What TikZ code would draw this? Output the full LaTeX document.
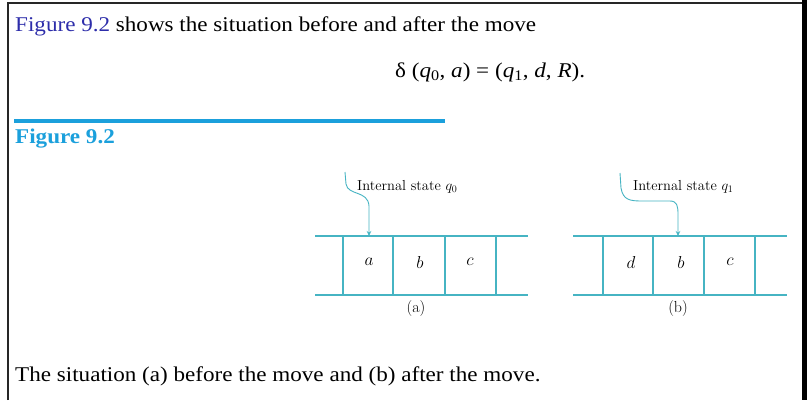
\documentclass[tikz,border=0pt]{standalone}
\usepackage{fontspec}
\newfontfamily\tnr[FakeStretch=1.1]{Liberation Serif}
\usetikzlibrary{arrows.meta}
\definecolor{linkblue}{RGB}{45,45,170}
\definecolor{rulecyan}{RGB}{27,160,220}
\definecolor{tapecol}{RGB}{70,180,195}
\tikzset{
  bodytext/.style={anchor=base west,inner sep=0pt,font=\tnr\fontsize{21}{24}\selectfont},
  tapeline/.style={draw=tapecol,line width=1.3pt},
  cellsym/.style={inner sep=0pt,font=\fontsize{16}{18}\selectfont},
  statelabel/.style={anchor=base west,inner sep=0pt,font=\fontsize{14.5}{16}\selectfont},
  sublabel/.style={inner sep=0pt,font=\fontsize{16}{18}\selectfont},
  pointer/.style={draw=tapecol,line width=0.9pt,-{Stealth[length=5pt,width=4.5pt]}},
}
\begin{document}
\begin{tikzpicture}[x=1pt,y=-1pt]
\useasboundingbox (0,0) rectangle (807,400);
\fill[white] (0,0) rectangle (807,400);
% frame
\draw[line width=1.6pt,black!85] (8,400) -- (8,3) -- (803,3);
\fill[black] (802,0) rectangle (807,400);
% first line
\node[bodytext] (intro) at (15,31) {\textcolor{linkblue}{Figure 9.2} shows the situation before and after the move};
% formula
\node[bodytext] (formula) at (395,77) {δ (\textit{q}\textsubscript{0}, \textit{a}) = (\textit{q}\textsubscript{1}, \textit{d}, \textit{R}).};
% rule and title
\draw[rulecyan,line width=3.5pt] (14,121) -- (445,121);
\node[bodytext,text=rulecyan,font=\tnr\bfseries\fontsize{21}{24}\selectfont] (figtitle) at (15,143) {Figure 9.2};
% tape (a)
\draw[tapeline] (315,236) -- (528,236);
\draw[tapeline] (315,295) -- (528,295);
\foreach \x in {343,393,445,496} \draw[tapeline] (\x,236) -- (\x,295);
\node[cellsym] (ca1) at (369,262) {$a$};
\node[cellsym] (ca2) at (420,262) {$b$};
\node[cellsym] (ca3) at (470,262) {$c$};
\node[sublabel] (suba) at (416,309) {(a)};
\node[statelabel] (labela) at (357,190) {Internal state $q_0$};
\coordinate (sa) at (345,172);
\coordinate (ta) at (369,236);
\draw[pointer] (sa) -- (346,184) .. controls (348,196) and (368,190) .. (369,206) -- (ta);
% tape (b)
\draw[tapeline] (573,236) -- (787,236);
\draw[tapeline] (573,295) -- (787,295);
\foreach \x in {603,653,704,755} \draw[tapeline] (\x,236) -- (\x,295);
\node[cellsym] (cb1) at (631,262) {$d$};
\node[cellsym] (cb2) at (681,262) {$b$};
\node[cellsym] (cb3) at (730,262) {$c$};
\node[sublabel] (subb) at (678,309) {(b)};
\node[statelabel] (labelb) at (633,190) {Internal state $q_1$};
\coordinate (sb) at (620,173);
\coordinate (tb) at (678,236);
\draw[pointer] (sb) -- (621,188) .. controls (623,200) and (630,201) .. (642,201) -- (670,201) .. controls (677,201) and (678,206) .. (678,214) -- (tb);
% caption
\node[bodytext] (caption) at (15,381) {The situation (a) before the move and (b) after the move.};
\end{tikzpicture}
\end{document}
